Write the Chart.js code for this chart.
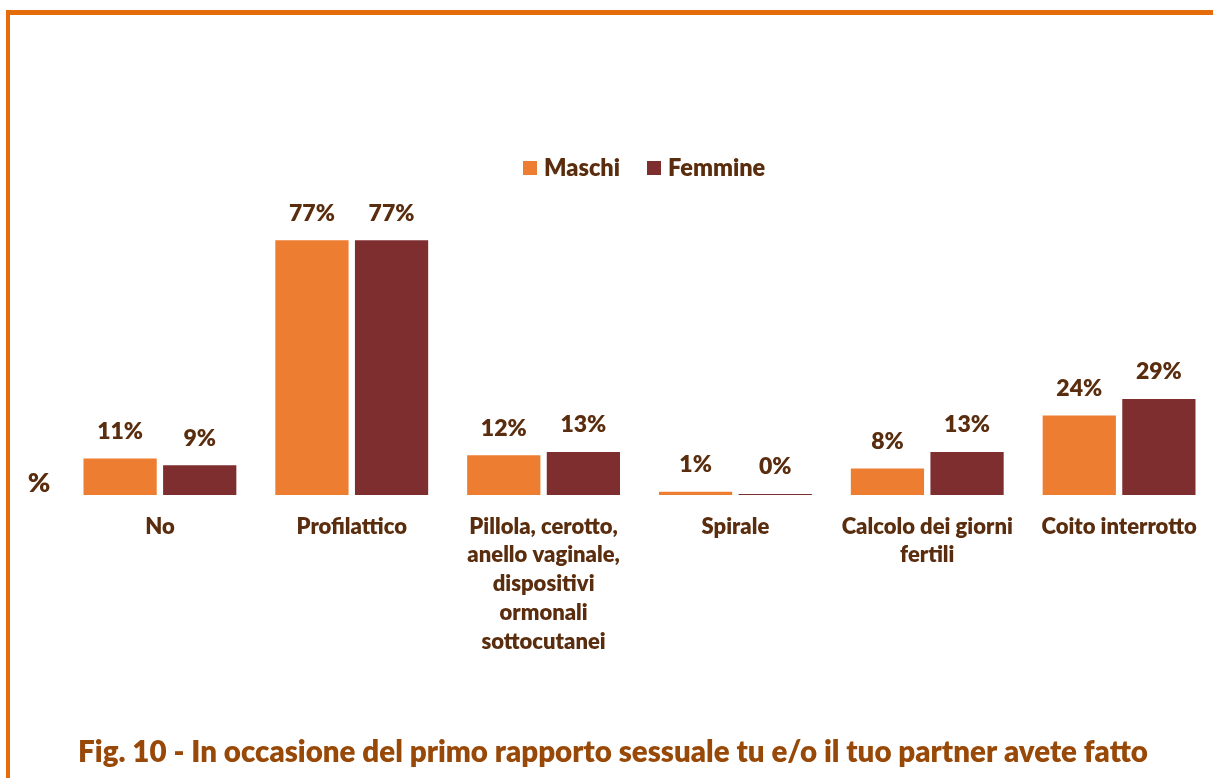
<!DOCTYPE html>
<html><head><meta charset="utf-8">
<script src="https://cdn.jsdelivr.net/npm/chart.js@4/dist/chart.umd.min.js"></script>
<style>
html,body{margin:0;padding:0;background:#fff;overflow:hidden;width:1213px;height:778px;}
#wrap{position:absolute;left:0;top:0;width:1216px;height:778px;}
#frameTop{position:absolute;left:6px;top:10px;width:1207px;height:5px;background:#E46C0A;}
#frameLeft{position:absolute;left:6px;top:10px;width:4px;height:768px;background:#E46C0A;}
</style></head>
<body>
<div id="wrap"><canvas id="c" width="1216" height="778"></canvas></div>
<div id="frameTop"></div><div id="frameLeft"></div>
<script>
const categories = ["No","Profilattico",["Pillola, cerotto,","anello vaginale,","dispositivi","ormonali","sottocutanei"],"Spirale",["Calcolo dei giorni","fertili"],"Coito interrotto"];
const seriesNames = ["Maschi","Femmine"];
const maschi = [11,77,12,1,8,24];
const femmine = [9,77,13,0.3,13,29];
const maschiLabels = ["11%","77%","12%","1%","8%","24%"];
const femmineLabels = ["9%","77%","13%","0%","13%","29%"];
const titleText = "Fig. 10 - In occasione del primo rapporto sessuale tu e/o il tuo partner avete fatto";
const yAxisLabel = "%";

const TXT = "#5A2D0E";
const COLORS = ["#ED7D31","#7F2E30"];
const FONT = "Lato, 'Open Sans', sans-serif";
const W = "800";

const overlay = {
  id:"overlay",
  afterDatasetsDraw(chart){
    const ctx = chart.ctx;
    ctx.save();
    ctx.fillStyle = TXT;
    ctx.font = W + " 23px " + FONT;
    ctx.textAlign = "center";
    ctx.textBaseline = "middle";
    const labs = [maschiLabels, femmineLabels];
    chart.data.datasets.forEach((ds,i)=>{
      chart.getDatasetMeta(i).data.forEach((bar,j)=>{
        ctx.fillText(labs[i][j], bar.x, bar.y - 27);
      });
    });
    // y label
    ctx.font = W + " 27px " + FONT;
    ctx.fillText(yAxisLabel, 39, 483);
    // legend
    ctx.font = W + " 23.5px " + FONT;
    ctx.textAlign = "left";
    const lx = [523, 647];
    seriesNames.forEach((n,i)=>{
      ctx.fillStyle = COLORS[i];
      ctx.fillRect(lx[i], 161, 14, 14);
      ctx.fillStyle = TXT;
      ctx.fillText(n, lx[i]+21, 168);
    });
    // title
    ctx.fillStyle = "#984807";
    ctx.textAlign = "center";
    ctx.font = W + " 29.5px " + FONT;
    ctx.fillText(titleText, 613, 752);
    ctx.restore();
  }
};

new Chart(document.getElementById("c"), {
  type:"bar",
  data:{
    labels:categories,
    datasets:[
      {label:seriesNames[0], data:maschi, backgroundColor:COLORS[0], categoryPercentage:0.83, barPercentage:0.92},
      {label:seriesNames[1], data:femmine, backgroundColor:COLORS[1], categoryPercentage:0.83, barPercentage:0.92}
    ]
  },
  options:{
    responsive:false,
    animation:false,
    layout:{padding:{top:164,left:64,right:1,bottom:0}},
    plugins:{legend:{display:false},tooltip:{enabled:false},title:{display:false}},
    scales:{
      y:{display:false,min:0,max:100},
      x:{
        grid:{display:false,drawTicks:false},
        border:{display:false},
        ticks:{color:TXT,font:{family:FONT,size:22,weight:W,lineHeight:1.31},padding:17,maxRotation:0,autoSkip:false},
        afterFit(s){ s.height = 283; }
      }
    }
  },
  plugins:[overlay]
});
</script>
</body></html>
